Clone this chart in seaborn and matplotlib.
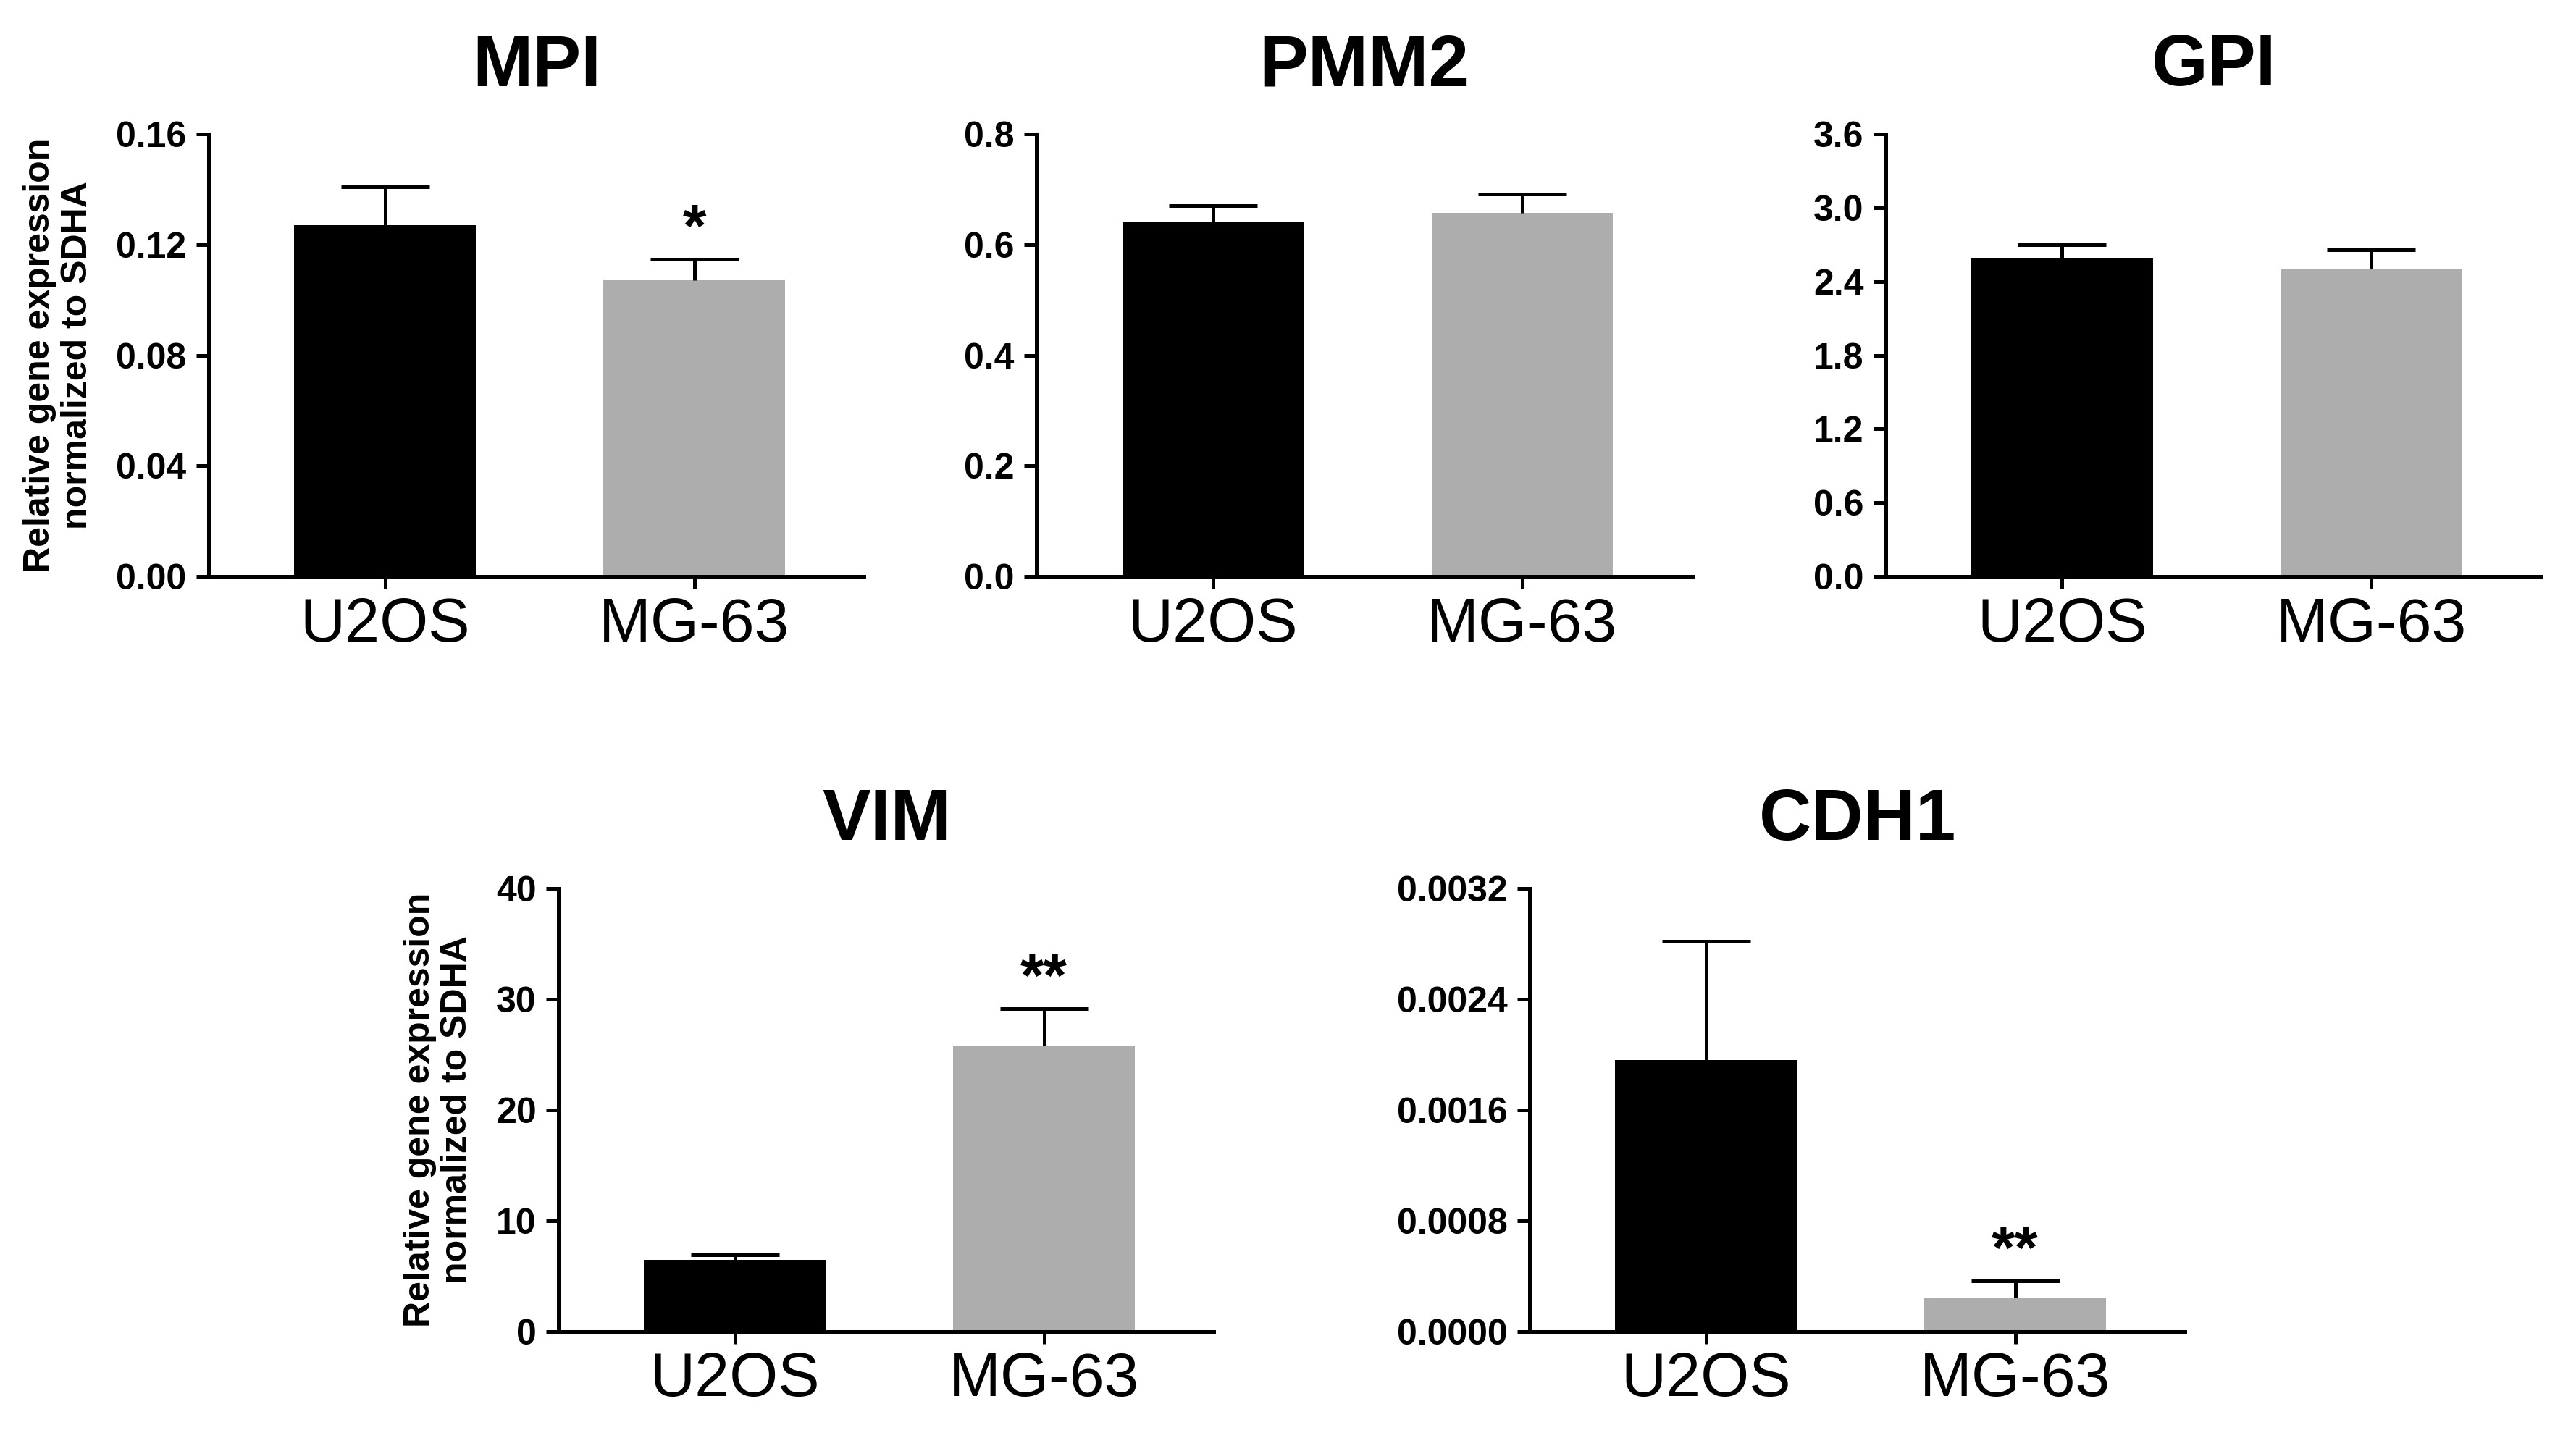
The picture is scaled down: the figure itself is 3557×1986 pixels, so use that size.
import matplotlib
matplotlib.use("Agg")
import matplotlib.pyplot as plt
import seaborn as sns
import pandas as pd
import numpy as np
from matplotlib.ticker import FixedLocator, FormatStrFormatter

# ---------------- data ----------------
cells = ["U2OS", "MG-63"]
genes = ["MPI", "PMM2", "GPI", "VIM", "CDH1"]

mpi_mean = [0.127, 0.107]
mpi_sem = [0.0137, 0.0077]
pmm2_mean = [0.642, 0.657]
pmm2_sem = [0.028, 0.034]
gpi_mean = [2.584, 2.502]
gpi_sem = [0.113, 0.156]
vim_mean = [6.43, 25.83]
vim_sem = [0.45, 3.32]
cdh1_mean = [0.00196, 0.000246]
cdh1_sem = [0.00086, 0.000118]

mpi_ticks = [0.00, 0.04, 0.08, 0.12, 0.16]
pmm2_ticks = [0.0, 0.2, 0.4, 0.6, 0.8]
gpi_ticks = [0.0, 0.6, 1.2, 1.8, 2.4, 3.0, 3.6]
vim_ticks = [0, 10, 20, 30, 40]
cdh1_ticks = [0.0000, 0.0008, 0.0016, 0.0024, 0.0032]
tick_formats = ["%.2f", "%.1f", "%.1f", "%.0f", "%.4f"]

mpi_sig = ["", "*"]
pmm2_sig = ["", ""]
gpi_sig = ["", ""]
vim_sig = ["", "**"]
cdh1_sig = ["", "**"]

ylabel_text = "Relative gene expression\nnormalized to SDHA"
bar_colors = ["#000000", "#ADADAD"]

# ---------------- style ----------------
sns.set_theme(style="ticks")
plt.rcParams["font.family"] = ["Liberation Sans", "DejaVu Sans"]
for key in ("text.color", "axes.labelcolor", "xtick.color", "ytick.color",
            "axes.edgecolor"):
    plt.rcParams[key] = "black"
NARROW = ["Liberation Sans Narrow", "Liberation Sans", "DejaVu Sans"]

W, H, DPI = 3557, 1986, 200
fig = plt.figure(figsize=(W / DPI, H / DPI), dpi=DPI)

aw, ah = 0.2545, 0.308
positions = [
    (0.081, 0.599), (0.4024, 0.599), (0.7321, 0.599),
    (0.2168, 0.0742), (0.5938, 0.0742),
]
means = [mpi_mean, pmm2_mean, gpi_mean, vim_mean, cdh1_mean]
sems = [mpi_sem, pmm2_sem, gpi_sem, vim_sem, cdh1_sem]
ticks = [mpi_ticks, pmm2_ticks, gpi_ticks, vim_ticks, cdh1_ticks]
sigs = [mpi_sig, pmm2_sig, gpi_sig, vim_sig, cdh1_sig]
show_ylabel = [True, False, False, True, False]

LW = 1.8
for i, gene in enumerate(genes):
    ax = fig.add_axes([positions[i][0], positions[i][1], aw, ah])
    df = pd.DataFrame({"cell": cells, "value": means[i]})
    sns.barplot(data=df, x="cell", y="value", hue="cell", order=cells,
                hue_order=cells, palette=bar_colors, saturation=1,
                width=0.586, errorbar=None, legend=False, ax=ax,
                linewidth=0)
    _, caplines, _ = ax.errorbar([0, 1], means[i], yerr=[[0, 0], sems[i]],
                                 fmt="none", ecolor="black", elinewidth=LW,
                                 capsize=22, capthick=LW, zorder=3,
                                 clip_on=False)
    # keep only the upper caps (GraphPad style, one-sided SEM)
    for cl in caplines:
        yd = np.asarray(cl.get_ydata(), dtype=float)
        if np.allclose(yd, means[i]):
            cl.set_visible(False)
    for j, s in enumerate(sigs[i]):
        if s:
            ax.annotate(s, (j, means[i][j] + sems[i][j]), xytext=(0, 0),
                        textcoords="offset points", ha="center", va="bottom",
                        fontsize=30, fontweight="bold", color="black")
    ax.set_xlim(-0.57, 1.55)
    ax.set_ylim(ticks[i][0], ticks[i][-1])
    ax.yaxis.set_major_locator(FixedLocator(ticks[i]))
    ax.yaxis.set_major_formatter(FormatStrFormatter(tick_formats[i]))
    sns.despine(ax=ax)
    for sp in ("left", "bottom"):
        ax.spines[sp].set_linewidth(LW)
        ax.spines[sp].set_color("black")
        ax.spines[sp].set_capstyle("projecting")
    ax.tick_params(axis="both", width=LW, length=6, color="black")
    ax.tick_params(axis="y", pad=5)
    ax.tick_params(axis="x", pad=4)
    for lab in ax.get_yticklabels():
        lab.set_family(NARROW)
        lab.set_fontweight("bold")
        lab.set_fontsize(18)
    for lab in ax.get_xticklabels():
        lab.set_fontsize(31)
    ax.set_xlabel("")
    if show_ylabel[i]:
        ax.set_ylabel(ylabel_text, fontsize=18, fontweight="bold",
                      labelpad=11, linespacing=1.15)
    else:
        ax.set_ylabel("")
    ax.set_title(gene, fontsize=36, fontweight="bold", pad=24)
    ax.set_facecolor("white")

fig.savefig("out.png", dpi=DPI, facecolor="white")
